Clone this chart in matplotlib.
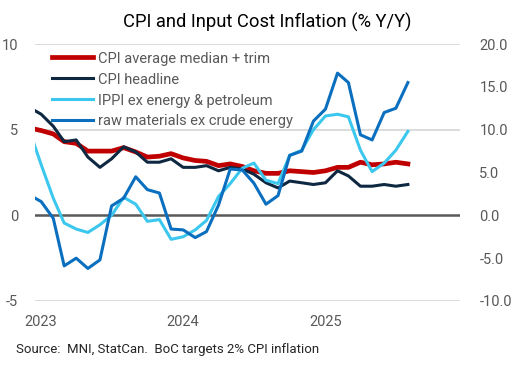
import matplotlib
matplotlib.use("Agg")
import matplotlib.pyplot as plt
import pandas as pd

plt.rcParams['font.family'] = ['Roboto', 'DejaVu Sans']

# Monthly data, Dec 2022 .. Aug 2025 (Dec 2022 point is clipped at the left edge)
months = pd.date_range('2022-12-01', '2025-08-01', freq='MS')

cpi_trim_median = [5.1, 4.95, 4.75, 4.3, 4.2, 3.75, 3.75, 3.75, 3.95, 3.7,
                   3.4, 3.45, 3.6, 3.35, 3.2, 3.15, 2.9, 3.0, 2.85, 2.6,
                   2.45, 2.45, 2.6, 2.55, 2.5, 2.6, 2.8, 2.8, 3.1, 2.95,
                   3.0, 3.1, 3.0]
cpi_headline = [6.3, 5.9, 5.2, 4.3, 4.4, 3.4, 2.8, 3.3, 4.0, 3.7,
                3.1, 3.1, 3.3, 2.8, 2.8, 2.9, 2.6, 2.8, 2.7, 2.4,
                1.9, 1.6, 2.0, 1.9, 1.8, 1.9, 2.6, 2.3, 1.7, 1.7,
                1.8, 1.7, 1.8]
ippi_ex_energy = [10.0, 5.9, 2.0, -0.9, -1.6, -2.0, -1.1, 0.0, 2.1, 1.3,
                  -0.7, -0.5, -2.8, -2.5, -1.7, -0.6, 2.2, 3.7, 5.5, 6.1,
                  4.1, 3.7, 7.0, 7.6, 10.0, 11.6, 11.8, 11.5, 7.6, 5.1,
                  6.1, 7.6, 9.8]
raw_ex_crude = [2.4, 1.6, -0.35, -5.9, -5.0, -6.2, -5.2, 1.1, 2.0, 4.5,
                3.0, 2.6, -1.6, -1.7, -2.6, -1.9, 1.2, 5.4, 5.3, 3.75,
                1.3, 2.3, 7.0, 7.5, 11.0, 12.4, 16.6, 15.5, 9.4, 8.8,
                12.0, 12.5, 15.5]

labels = ['CPI average median + trim', 'CPI headline',
          'IPPI ex energy & petroleum', 'raw materials ex crude energy']
colors = ['#C00000', '#0E2841', '#3CC8EE', '#0A6FBF']

left_ticks = [-5, 0, 5, 10]
right_ticks = [-10.0, -5.0, 0.0, 5.0, 10.0, 15.0, 20.0]
year_ticks = ['2023-01-01', '2024-01-01', '2025-01-01']

fig = plt.figure(figsize=(5.2, 3.66), dpi=100)
ax = fig.add_axes([35/520, 1-301/366, 425/520, 257/366])
ax2 = ax.twinx()

gray_txt = '#595959'
for v in left_ticks:
    if v == 0:
        continue
    ax.axhline(v, color='#D9D9D9', lw=1.3, zorder=0)
ax.axhline(0, color='#595959', lw=1.8, zorder=1)

l1, = ax.plot(months, cpi_trim_median, color=colors[0], lw=3.4, zorder=3,
              solid_joinstyle='round')
l2, = ax.plot(months, cpi_headline, color=colors[1], lw=2.2, zorder=4,
              solid_joinstyle='round')
l3, = ax2.plot(months, ippi_ex_energy, color=colors[2], lw=2.2, zorder=3,
               solid_joinstyle='round')
l4, = ax2.plot(months, raw_ex_crude, color=colors[3], lw=2.2, zorder=4,
               solid_joinstyle='round')

ax.set_xlim(pd.Timestamp('2022-12-16'), pd.Timestamp('2025-12-13'))
ax.set_ylim(-5, 10)
ax2.set_ylim(-10, 20)

ax.set_yticks(left_ticks)
ax.set_yticklabels([f'{v:g}' for v in left_ticks])
ax2.set_yticks(right_ticks)
ax2.set_yticklabels([f'{v:.1f}' for v in right_ticks])

xt = [pd.Timestamp(d) for d in year_ticks]
ax.set_xticks(xt)
ax.set_xticklabels([d[:4] for d in year_ticks])

for a in (ax, ax2):
    for s in a.spines.values():
        s.set_visible(False)
    a.tick_params(length=0, labelsize=10.5, colors=gray_txt)
ax.tick_params(axis='y', pad=12)
ax2.tick_params(axis='y', pad=14)
ax.tick_params(axis='x', pad=10)

fig.text(267/520, 1-22/366, 'CPI and Input Cost Inflation (% Y/Y)',
         ha='center', va='center', fontsize=13.2, color='black')

leg = ax.legend([l1, l2, l3, l4], labels, loc='upper left',
                bbox_to_anchor=(17/425, 1-7.5/257), frameon=False,
                borderaxespad=0, borderpad=0, handlelength=2.8,
                handletextpad=0.33, labelspacing=0.48, fontsize=10.5)
for t in leg.get_texts():
    t.set_color(gray_txt)
leg.set_zorder(10)

fig.text(16/520, 1-349/366, 'Source:  MNI, StatCan.  BoC targets 2% CPI inflation',
         ha='left', va='center', fontsize=9.5, color='#262626')

fig.savefig('out.png', dpi=100)
